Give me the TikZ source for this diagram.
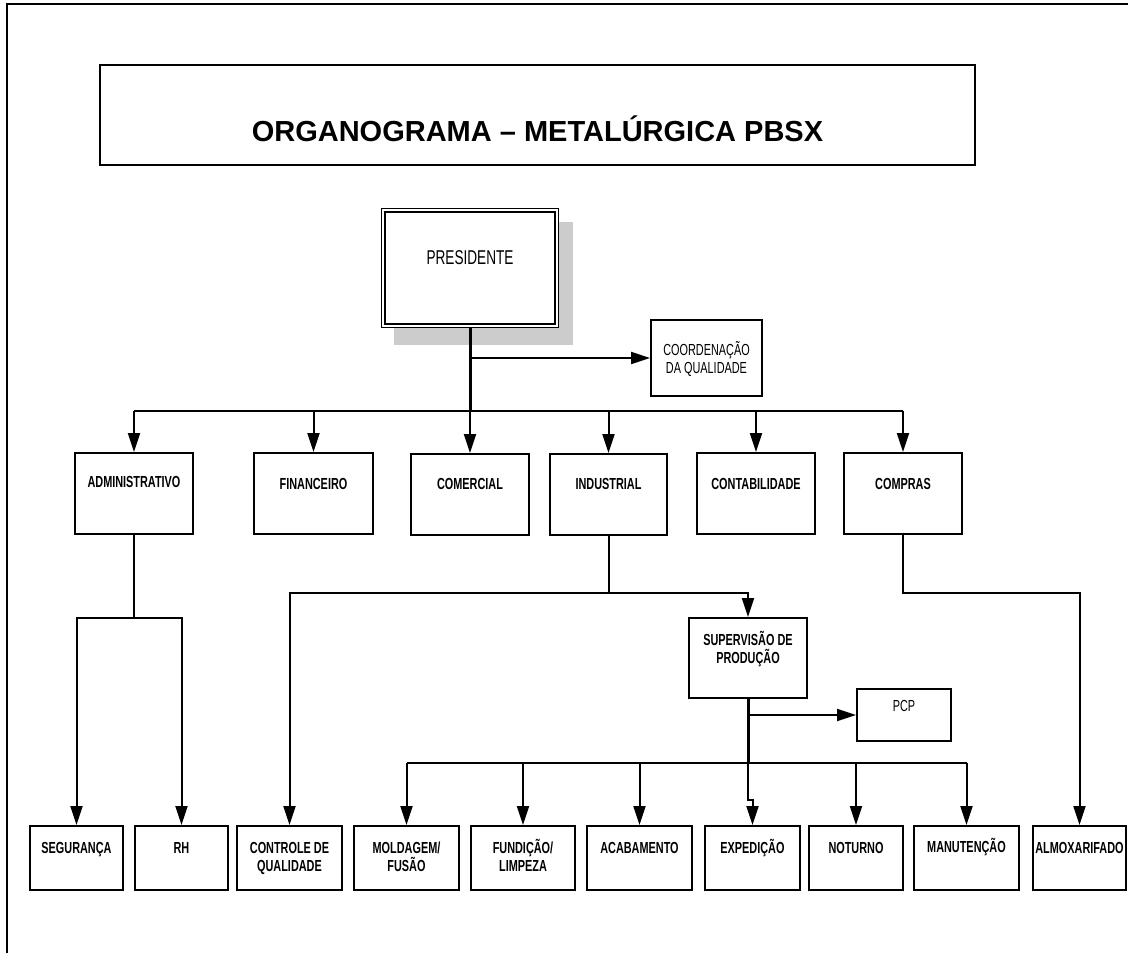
\documentclass[tikz,border=0pt]{standalone}
\usepackage{fontspec}
\setmainfont{Liberation Sans}
\newfontfamily\nar[FakeStretch=0.68]{Liberation Sans}
\usetikzlibrary{arrows.meta}
\begin{document}
\begin{tikzpicture}[x=1pt,y=-1pt,
  box/.style={draw, line width=1.9pt, inner sep=0pt, rectangle},
  lbl/.style={font=\nar\bfseries\fontsize{16}{18}\selectfont, inner sep=0pt, align=center, anchor=base},
  lblr/.style={font=\nar\fontsize{16}{18}\selectfont, inner sep=0pt, align=center, anchor=base},
  con/.style={line width=2pt},
  thickcon/.style={line width=3pt},
  arr/.style={con, -{Triangle[length=19pt,width=12pt]}},
]
\useasboundingbox (0,0) rectangle (1128,953);
% frame
\draw[line width=2pt] (7,953) -- (7,4) -- (1128,4);

% title
\node[box, line width=1.6pt, minimum width=875pt, minimum height=100pt] (title) at (537.5,115) {};
\node[font=\bfseries\fontsize{29}{34}\selectfont, inner sep=0pt, anchor=base] (titleT) at (537.5,141) {ORGANOGRAMA – METALÚRGICA PBSX};

% presidente
\fill[black!20] (394,222) rectangle (573,345);
\node[draw, double=white, double distance=1.8pt, line width=1.5pt, fill=white, inner sep=0pt, minimum width=173.5pt, minimum height=115.5pt] (pres) at (470,268) {};
\node[font=\nar\fontsize{20}{22}\selectfont, inner sep=0pt, anchor=base] (presT) at (470,264) {PRESIDENTE};

% coordenacao
\node[box, minimum width=111pt, minimum height=76pt] (coord) at (706.5,358) {};
\node[lblr] (coordT) at (706.5,373) {COORDENAÇÃO\\DA QUALIDADE};

% top row
\node[box, minimum width=118pt, minimum height=81pt] (adm) at (134,493.5) {};
\node[box, minimum width=119pt, minimum height=81pt] (fin) at (313.5,493.5) {};
\node[box, minimum width=118pt, minimum height=81pt] (com) at (470,494.5) {};
\node[box, minimum width=117pt, minimum height=81pt] (ind) at (608.5,494.5) {};
\node[box, minimum width=118pt, minimum height=81pt] (cont) at (756,493.5) {};
\node[box, minimum width=118pt, minimum height=81pt] (comp) at (903,493.5) {};
\node[lbl] (admT) at (134,487) {ADMINISTRATIVO};
\node[lbl] (finT) at (313.5,489) {FINANCEIRO};
\node[lbl] (comT) at (470,489) {COMERCIAL};
\node[lbl] (indT) at (608.5,489) {INDUSTRIAL};
\node[lbl] (contT) at (756,489) {CONTABILIDADE};
\node[lbl] (compT) at (903,489) {COMPRAS};

% supervisao & pcp
\node[box, minimum width=118pt, minimum height=80pt] (sup) at (748,658) {};
\node[lbl] (supT) at (748,663) {SUPERVISÃO DE\\PRODUÇÃO};
\node[box, minimum width=94pt, minimum height=52pt] (pcp) at (904,715) {};
\node[lblr] (pcpT) at (904,711) {PCP};

% bottom row
\node[box, minimum width=93pt, minimum height=64pt] (seg) at (76.5,858) {};
\node[box, minimum width=93pt, minimum height=64pt] (rh) at (181.5,858) {};
\node[box, minimum width=105pt, minimum height=64pt] (ctrl) at (289.5,858) {};
\node[box, minimum width=105pt, minimum height=64pt] (mold) at (406.5,858) {};
\node[box, minimum width=104pt, minimum height=64pt] (fund) at (523,858) {};
\node[box, minimum width=105pt, minimum height=64pt] (acab) at (639.5,858) {};
\node[box, minimum width=95pt, minimum height=64pt] (exped) at (752.5,858) {};
\node[box, minimum width=94pt, minimum height=64pt] (not) at (856,858) {};
\node[box, minimum width=105pt, minimum height=64pt] (manu) at (966.5,858) {};
\node[box, minimum width=93pt, minimum height=64pt] (almox) at (1079.5,858) {};
\node[lbl] (segT) at (76.5,853) {SEGURANÇA};
\node[lbl] (rhT) at (181.5,853) {RH};
\node[lbl] (ctrlT) at (289.5,871) {CONTROLE DE\\QUALIDADE};
\node[lbl] (moldT) at (406.5,871) {MOLDAGEM/\\FUSÃO};
\node[lbl] (fundT) at (523,871) {FUNDIÇÃO/\\LIMPEZA};
\node[lbl] (acabT) at (639.5,853) {ACABAMENTO};
\node[lbl] (expedT) at (752.5,853) {EXPEDIÇÃO};
\node[lbl] (notT) at (856,853) {NOTURNO};
\node[lbl] (manuT) at (966.5,852) {MANUTENÇÃO};
\node[lbl] (almoxT) at (1079.5,853) {ALMOXARIFADO};

% coordinates
\coordinate (b1) at (470,411);
\coordinate (pj) at (470,358);
\coordinate (a1) at (134,618);
\coordinate (i1) at (608.5,593);
\coordinate (c1) at (903,593);
\coordinate (s1) at (748,715);
\coordinate (s2) at (748,763);
\coordinate (s3) at (748,800);

% presidente connectors
\draw[thickcon] (pres.south) -- (b1);
\draw[arr] (pj) -- (coord.west);
\draw[con] (adm.north |- b1) -- (comp.north |- b1);
\foreach \n in {adm,fin,com,ind,cont,comp}
  \draw[arr] (\n.north |- b1) -- (\n.north);

% administrativo
\draw[arr] (adm.south) -- (a1) -| (seg.north);
\draw[arr] (a1) -| (rh.north);

% industrial
\draw[arr] (ind.south) -- (i1) -| (ctrl.north);
\draw[arr] (i1) -| (sup.north);

% compras
\draw[arr] (comp.south) -- (c1) -| (almox.north);

% supervisao
\draw[thickcon] (sup.south) -- (s2);
\draw[arr] (s1) -- (pcp.west);
\draw[con] (mold.north |- s2) -- (manu.north |- s2);
\foreach \n in {mold,fund,acab,not,manu}
  \draw[arr] (\n.north |- s2) -- (\n.north);
\draw[arr] (s2) -- (s3) -| (exped.north);
\end{tikzpicture}
\end{document}
